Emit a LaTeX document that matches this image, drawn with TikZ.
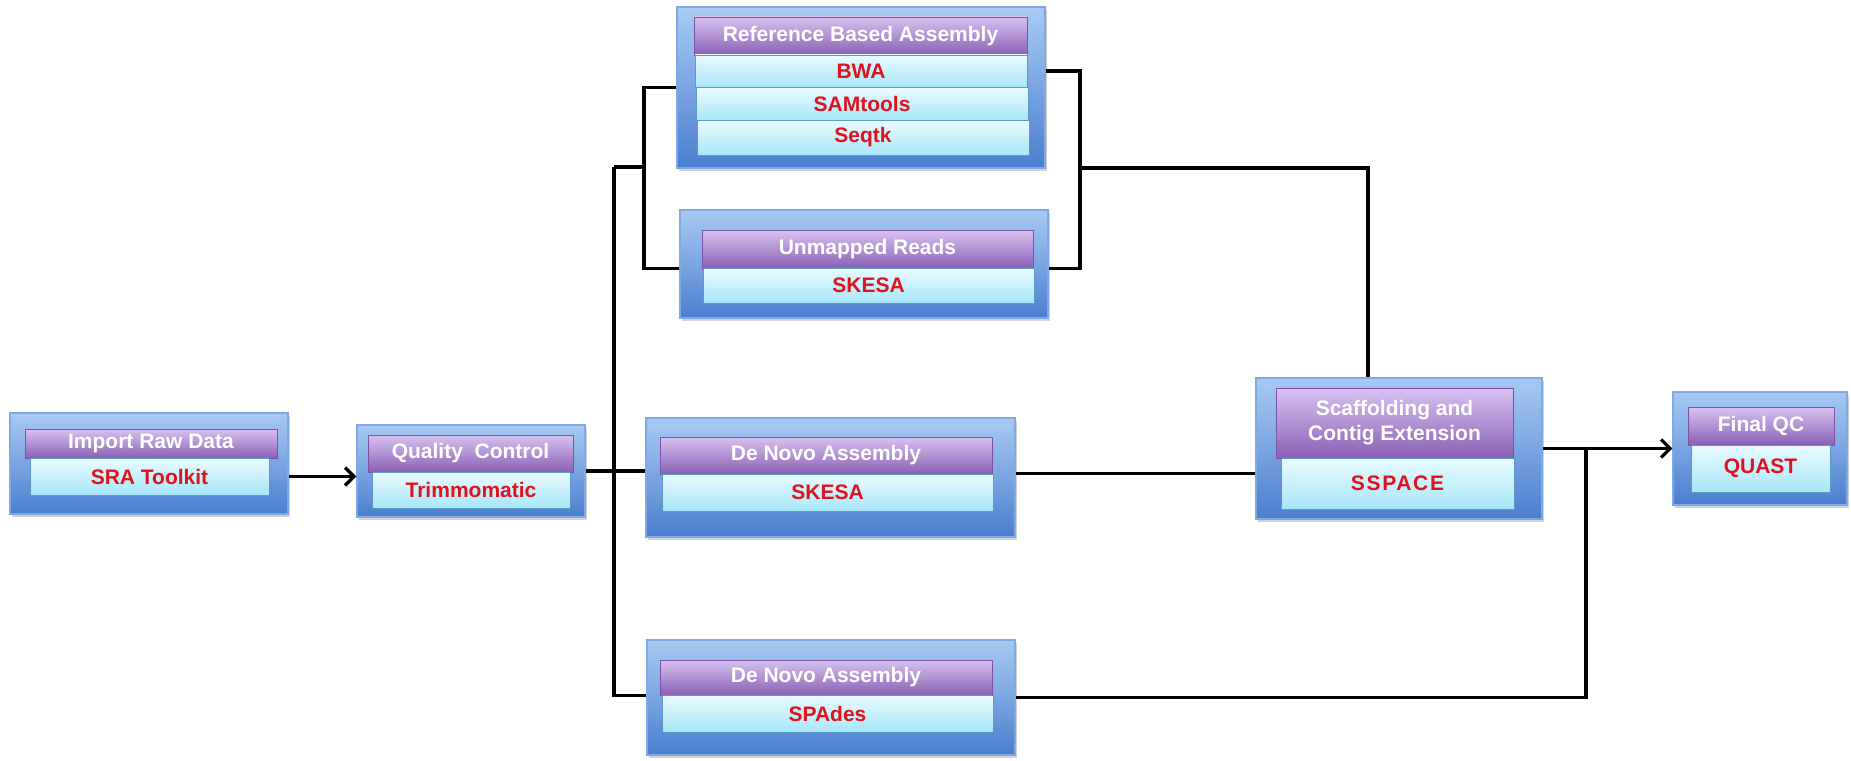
\documentclass[tikz,border=0pt]{standalone}
\usepackage{fontspec}
\setmainfont{Liberation Sans}
\usetikzlibrary{arrows.meta,shadows}

\definecolor{paneltop}{HTML}{A8CBF3}
\definecolor{panelbot}{HTML}{4A7ECF}
\definecolor{panelline}{HTML}{7FA8E4}
\definecolor{titletop}{HTML}{D8C2F0}
\definecolor{titlebot}{HTML}{8A60B4}
\definecolor{titleline}{HTML}{7A55A3}
\definecolor{tooltop}{HTML}{EAFBFF}
\definecolor{toolbot}{HTML}{A6E6F8}
\definecolor{toolline}{HTML}{5A9AC6}
\definecolor{tooltext}{HTML}{E0121C}

\tikzset{
    panel/.style={rectangle, inner sep=0pt, draw=panelline, line width=1.2pt,
        top color=paneltop, bottom color=panelbot,
        drop shadow={opacity=0.35, shadow xshift=2pt, shadow yshift=-3pt}},
    stage/.style={rectangle, inner sep=0pt, draw=titleline, line width=0.8pt,
        top color=titletop, bottom color=titlebot, text=white, align=center,
        font=\bfseries\fontsize{21}{25}\selectfont},
    tool/.style={rectangle, inner sep=0pt, draw=toolline, line width=0.8pt,
        top color=tooltop, bottom color=toolbot, text=tooltext,
        font=\bfseries\fontsize{21}{25}\selectfont},
    link/.style={line width=3.3pt},
    flow/.style={line width=3.3pt, -{Straight Barb[length=9pt,width=18pt,line width=3.3pt]}}
}

\begin{document}
\begin{tikzpicture}[x=1pt, y=-1pt]
    \useasboundingbox (0,0) rectangle (1851,760);

    % input and quality control
    \node[panel, minimum width=278, minimum height=101] (imp) at (149,463.5) {};
    \node[stage, minimum width=252, minimum height=29] (imptitle) at (151,443.5) {Import Raw Data};
    \node[tool, minimum width=239, minimum height=37] (improw) at (149.5,476.5) {SRA Toolkit};

    \node[panel, minimum width=228, minimum height=92] (qc) at (471,471) {};
    \node[stage, minimum width=205, minimum height=37] (qctitle) at (470.5,453.5) {Quality~ Control};
    \node[tool, minimum width=198, minimum height=36] (qcrow) at (471,490) {Trimmomatic};

    % reference based branch
    \node[panel, minimum width=368, minimum height=161] (ref) at (861,87.5) {};
    \node[stage, minimum width=333, minimum height=38] (reftitle) at (860.5,36) {Reference Based Assembly};
    \node[tool, minimum width=332, minimum height=32] (bwa) at (861,71) {BWA};
    \node[tool, minimum width=332, minimum height=33] (samtools) at (862,103.5) {SAMtools};
    \node[tool, minimum width=332, minimum height=35] (seqtk) at (863,137.5) {Seqtk};

    \node[panel, minimum width=368, minimum height=108] (um) at (864,264) {};
    \node[stage, minimum width=331, minimum height=38] (umtitle) at (867.5,249) {Unmapped Reads};
    \node[tool, minimum width=331, minimum height=35] (umrow) at (868.5,285.5) {SKESA};

    % de novo branches
    \node[panel, minimum width=369, minimum height=119] (dn1) at (830.5,477.5) {};
    \node[stage, minimum width=332, minimum height=37] (dn1title) at (826,455.5) {De Novo Assembly};
    \node[tool, minimum width=331, minimum height=37] (dn1row) at (827.5,492.5) {SKESA};

    \node[panel, minimum width=368, minimum height=115] (dn2) at (831,697.5) {};
    \node[stage, minimum width=332, minimum height=35] (dn2title) at (826,677.5) {De Novo Assembly};
    \node[tool, minimum width=331, minimum height=37] (dn2row) at (827.5,713.5) {SPAdes};

    % scaffolding and final check
    \node[panel, minimum width=286, minimum height=141] (sc) at (1399,448.5) {};
    \node[stage, minimum width=237, minimum height=70] (sctitle) at (1394.5,423) {Scaffolding and\\Contig Extension};
    \node[tool, minimum width=233, minimum height=51] (scrow) at (1397.5,483.5) {\addfontfeature{LetterSpace=8}SSPACE};

    \node[panel, minimum width=174, minimum height=113] (fqc) at (1760,448.5) {};
    \node[stage, minimum width=146, minimum height=38] (fqctitle) at (1761,426) {Final QC};
    \node[tool, minimum width=139, minimum height=47] (fqcrow) at (1760.5,468.5) {QUAST};

    \coordinate (split) at (614,167);
    \coordinate (lbr) at (644,167);
    \coordinate (rbr) at (1080,168);
    \coordinate (join) at (1586,449);

    \draw[flow] (improw -| imp.east) -- (improw -| qc.west);
    \draw[link] (qc.east) -- (qc.east -| dn1.west);
    \draw[link] (split) |- (dn2title.south -| dn2.west);
    \draw[link] (split) -- (lbr);
    \draw[link] (bwa.south -| ref.west) -| (lbr) |- (umtitle.south -| um.west);
    \draw[link] (bwa -| ref.east) -| (rbr) |- (umtitle.south -| um.east);
    \draw[link] (rbr) -| ([xshift=-31pt]sc.north);
    \draw[link] (dn1row.north -| dn1.east) -- (dn1row.north -| sc.west);
    \draw[flow] (sc.east) -- (sc.east -| fqc.west);
    \draw[link] (dn2.east) -| (join);
\end{tikzpicture}
\end{document}
